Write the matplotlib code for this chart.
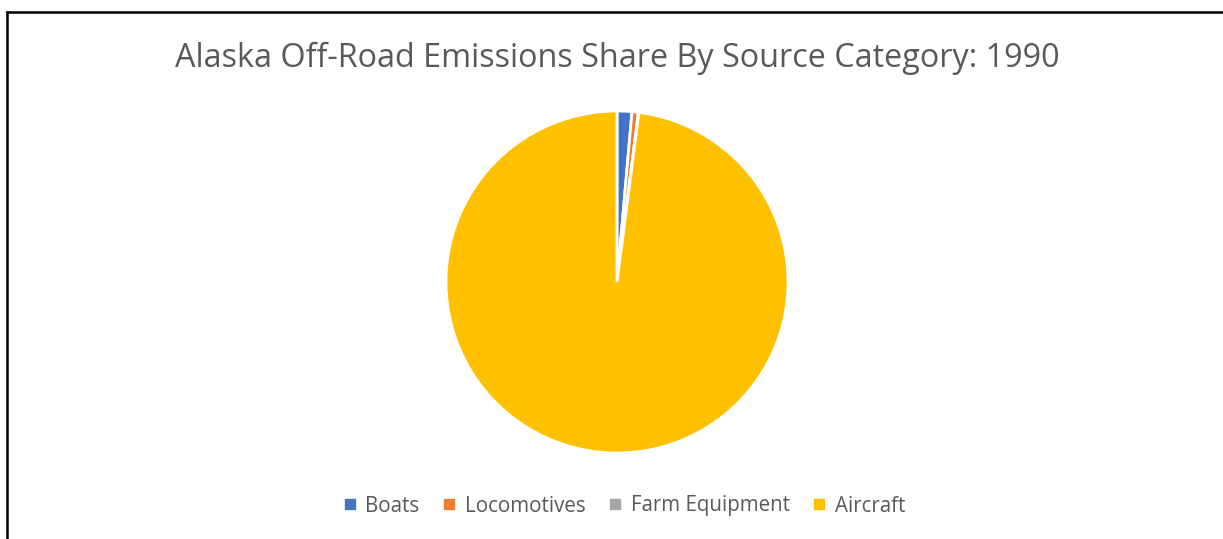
import matplotlib
matplotlib.use("Agg")
import matplotlib.pyplot as plt
from matplotlib.lines import Line2D

categories = ["Boats", "Locomotives", "Farm Equipment", "Aircraft"]
shares = [1.4, 0.6, 0.05, 97.95]
colors = ["#4472C4", "#ED7D31", "#A5A5A5", "#FFC000"]
title = "Alaska Off-Road Emissions Share By Source Category: 1990"

plt.rcParams['font.family'] = ['Open Sans', 'DejaVu Sans']

W, H = 1223, 539
fig = plt.figure(figsize=(W / 100, H / 100), dpi=100)
fig.patch.set_facecolor("white")

# border lines (left and top)
fig.add_artist(Line2D([6.5 / W, 6.5 / W], [0, 1 - 11.5 / H], color="black", lw=1.8, transform=fig.transFigure))
fig.add_artist(Line2D([6.5 / W, 1], [1 - 11.5 / H, 1 - 11.5 / H], color="black", lw=1.8, transform=fig.transFigure))

r = 171
cx, cy = 617, 282
ax = fig.add_axes([(cx - r) / W, 1 - (cy + r) / H, 2 * r / W, 2 * r / H])
ax.pie(shares, colors=colors, startangle=90, counterclock=False,
       wedgeprops=dict(edgecolor="white", linewidth=2), radius=1)
ax.set_xlim(-1, 1)
ax.set_ylim(-1, 1)
ax.set_aspect("equal")
ax.axis("off")

fig.text(617 / W, 1 - 58 / H, title, ha="center", va="center", fontsize=23.3, color="#595959")

handles = [Line2D([], [], marker="s", linestyle="none", markersize=6.5, markerfacecolor=c, markeredgecolor=c) for c in colors]
fig.legend(handles, categories, loc="center", bbox_to_anchor=(623 / W, 1 - 506 / H), ncol=4, frameon=False,
           fontsize=14.8, labelcolor="#595959", handletextpad=0.3, columnspacing=1.0, handlelength=0.9)

fig.savefig("out.png", dpi=100, facecolor="white")
